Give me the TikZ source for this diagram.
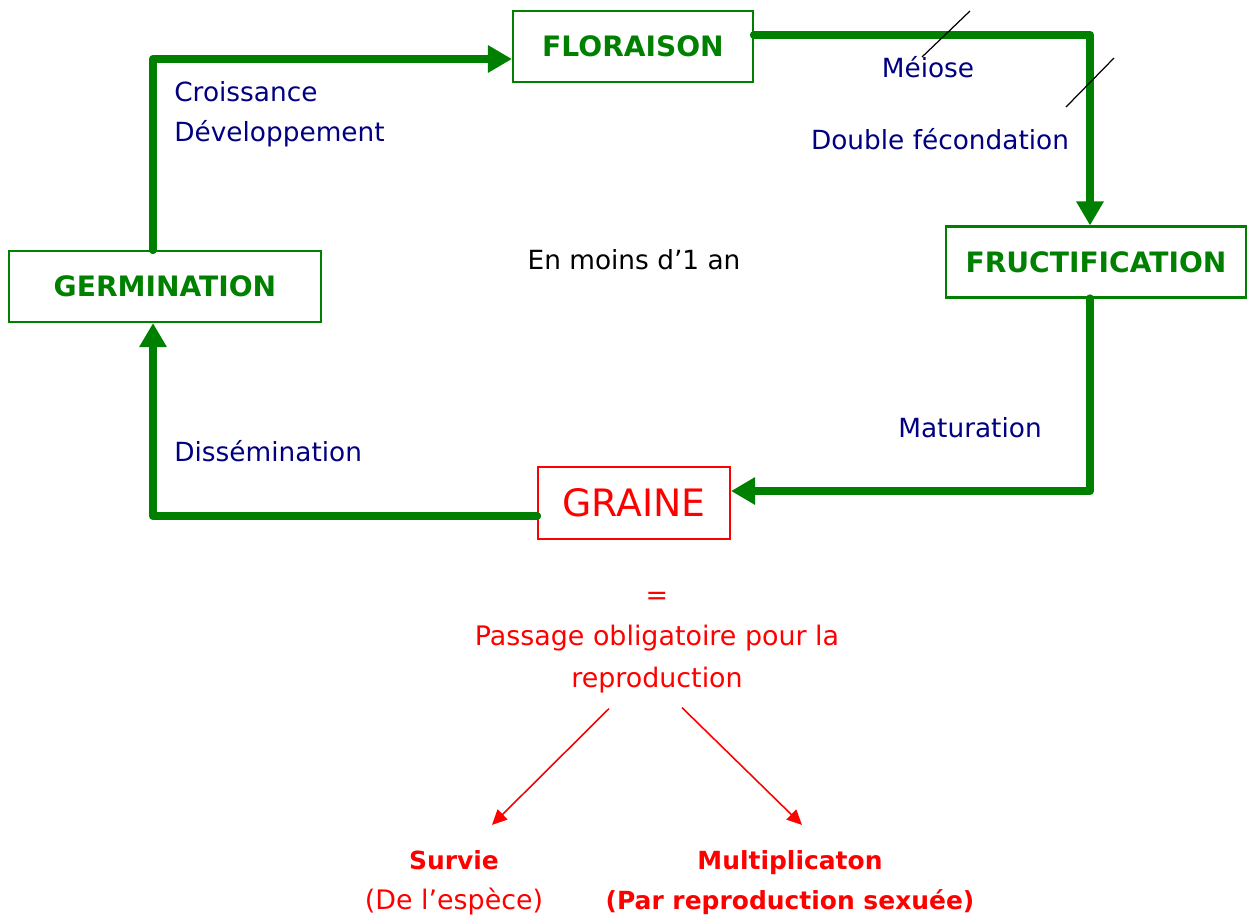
\documentclass[tikz,border=0pt]{standalone}
\usepackage{fontspec}
\setmainfont{DejaVu Sans}
\usetikzlibrary{arrows.meta}

\definecolor{cyclegreen}{RGB}{0,128,0}
\definecolor{notenavy}{RGB}{0,0,128}
\definecolor{seedred}{RGB}{255,0,0}

\tikzset{
  stagebox/.style={draw=cyclegreen, line width=1.2pt, text=cyclegreen,
    font=\fontsize{16}{19}\selectfont\bfseries, inner sep=0pt, minimum height=1.42cm},
  flowarrow/.style={draw=cyclegreen, line width=4.8pt, line cap=round, line join=round,
    -{Triangle[length=0.48cm,width=0.52cm]}},
  bluenote/.style={text=notenavy, font=\fontsize{15}{18}\selectfont, inner sep=0pt,
    text height=11pt, text depth=3.5pt, yshift=-2pt},
  rednote/.style={text=seedred, font=\fontsize{15.3}{18}\selectfont, inner sep=0pt,
    text height=11pt, text depth=3.5pt, yshift=-2pt},
  redbold/.style={rednote, font=\fontsize{14.2}{17}\selectfont\bfseries},
  splitarrow/.style={draw=seedred, line width=0.9pt, -{Triangle[length=0.3cm,width=0.28cm]}},
}

\begin{document}
\begin{tikzpicture}[x=0.02cm, y=-0.02cm]

\useasboundingbox ( 0, 0 ) rectangle ( 1248, 914 );

% Stages of the cycle
\node (flor) at ( 633, 46.5 ) [stagebox, minimum width=4.8cm] {FLORAISON};
\node (fruct) at ( 1096, 262 ) [stagebox, minimum width=6.0cm] {FRUCTIFICATION};
\node (germ) at ( 165, 286.5 ) [stagebox, minimum width=6.24cm] {GERMINATION};
\node (graine) at ( 634, 503 ) [stagebox, draw=seedred, text=seedred,
  font=\fontsize{21.5}{25}\selectfont, minimum width=3.84cm, minimum height=1.44cm] {GRAINE};

% Cycle arrows
\draw [flowarrow] ([xshift=-0.24cm]germ.north) |- ([yshift=-0.25cm]flor.west);
\draw [flowarrow] ([yshift=0.23cm]flor.east) -| ([xshift=-0.12cm]fruct.north);
\draw [flowarrow] ([xshift=-0.12cm]fruct.south) |- ([yshift=0.24cm]graine.east);
\draw [flowarrow] ([yshift=-0.26cm]graine.west) -| ([xshift=-0.24cm]germ.south);

% Step labels
\node (croiss) at ( 174, 91 ) [right, bluenote] {Croissance};
\node (devel) at ( 174, 131 ) [right, bluenote] {Développement};
\node (meiose) at ( 928, 67 ) [bluenote] {Méiose};
\node (fecond) at ( 940, 139 ) [bluenote] {Double fécondation};
\node (matur) at ( 970, 427 ) [bluenote] {Maturation};
\node (dissem) at ( 174, 451 ) [right, bluenote] {Dissémination};
\node (duree) at ( 634, 259 ) [bluenote, text=black] {En moins d'1 an};

% Slashes
\draw [black, line width=0.7pt] ( 922, 57 ) -- ( 970, 11 );
\draw [black, line width=0.7pt] ( 1066, 107 ) -- ( 1114, 58 );

% Role of the seed
\node (egal) at ( 657, 594 ) [rednote] {=};
\node (passage) at ( 657, 635 ) [rednote] {Passage obligatoire pour la};
\node (repro) at ( 657, 677 ) [rednote] {reproduction};

\node (survie) at ( 454, 859 ) [redbold] {Survie};
\node (espece) at ( 454, 899 ) [rednote] {(De l'espèce)};
\node (multi) at ( 790, 859 ) [redbold] {Multiplicaton};
\node (sexuee) at ( 790, 899 ) [redbold] {(Par reproduction sexuée)};

\draw [splitarrow] ([shift={(-0.96cm,-0.3cm)}]repro.south) -- ([shift={(0.76cm,0.49cm)}]survie.north);
\draw [splitarrow] ([shift={(0.5cm,-0.28cm)}]repro.south) -- ([shift={(0.24cm,0.49cm)}]multi.north);

\end{tikzpicture}
\end{document}
